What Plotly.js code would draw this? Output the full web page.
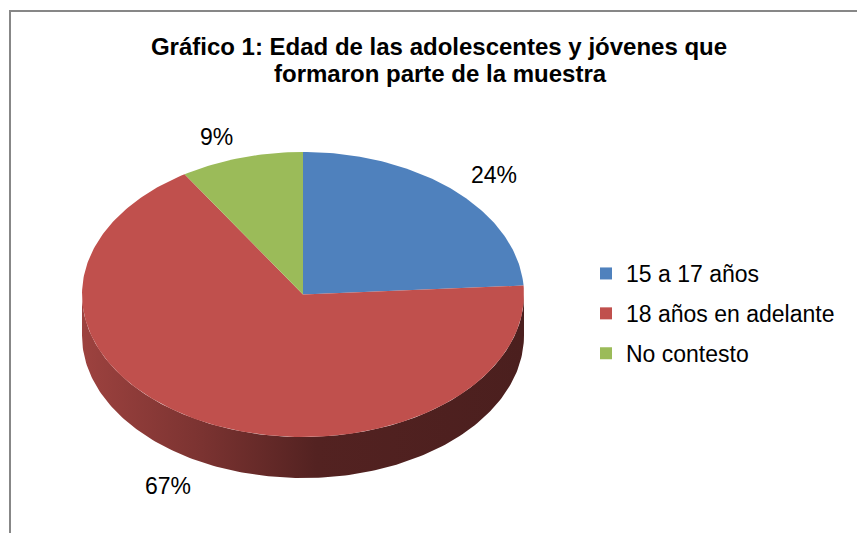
<!DOCTYPE html>
<html><head><meta charset="utf-8">
<script src="https://cdn.plot.ly/plotly-3.0.1.min.js"></script>
<style>html,body{margin:0;padding:0;background:#fff}</style>
</head><body><div id="chart" style="width:857px;height:533px"></div>
<script>
// ---- data ----
const categories = ['15 a 17 años', '18 años en adelante', 'No contesto'];
const values = [24, 67, 9];
const titleLines = ['Gráfico 1: Edad de las adolescentes y jóvenes que', 'formaron parte de la muestra'];

// ---- style ----
const colors = ['#4F81BD', '#C0504D', '#9BBB59'];
const FONT = 'Liberation Sans, Arial, sans-serif';
const geo = {cx: 303, cy: 294.5, rx: 221, ry: 142.5, depth: 41, start: 90};

function hexToRgb(h){h=h.replace('#','');return [0,2,4].map(i=>parseInt(h.substr(i,2),16));}
function shade(h,f){return 'rgb('+hexToRgb(h).map(v=>Math.round(v*f)).join(',')+')';}
function pt(th){const r=th*Math.PI/180;return [geo.cx+geo.rx*Math.cos(r), geo.cy-geo.ry*Math.sin(r)];}
function arc(a,b){
  const n=Math.max(2,Math.ceil(Math.abs(b-a)));const xs=[],ys=[];
  for(let i=0;i<=n;i++){const p=pt(a+(b-a)*i/n);xs.push(p[0]);ys.push(p[1]);}
  return [xs,ys];
}

const total = values.reduce((a,b)=>a+b,0);
const slices = [];
let cum = 0;
values.forEach((v,i)=>{
  const s = geo.start - 360*cum/total;
  cum += v;
  const e = geo.start - 360*cum/total;
  slices.push({s,e,i,v});
});

const traces = [];
// side walls (front half only)
slices.forEach(sl=>{
  const a = Math.min(sl.s, 0), b = Math.max(sl.e, -180);
  if (a <= b) return;
  const [xs,ys] = arc(a,b);
  const bx = xs.slice().reverse(), by = ys.slice().reverse().map(y=>y+geo.depth);
  const c = colors[sl.i];
  traces.push({type:'scatter', mode:'lines', x:xs.concat(bx,[xs[0]]), y:ys.concat(by,[ys[0]]),
    fill:'toself', line:{width:0,color:'rgba(0,0,0,0)'}, hoverinfo:'skip', showlegend:false,
    fillgradient:{type:'horizontal', colorscale:[[0,shade(c,0.82)],[0.27,shade(c,0.64)],[0.53,shade(c,0.43)],[1,shade(c,0.39)]]}});
});
// top faces
slices.forEach(sl=>{
  const [xs,ys] = arc(sl.s, sl.e);
  traces.push({type:'scatter', mode:'lines', x:[geo.cx].concat(xs,[geo.cx]), y:[geo.cy].concat(ys,[geo.cy]),
    fill:'toself', fillcolor:colors[sl.i], line:{width:0,color:colors[sl.i]}, hoverinfo:'skip', showlegend:false});
});
// legend entries
categories.forEach((c,i)=>{
  traces.push({type:'scatter', mode:'markers', x:[null], y:[null], name:c, legendgroup:'g'+i,
    marker:{symbol:'square', size:12, color:colors[i]}, showlegend:true});
});

// labels
const annotations = slices.map(sl=>{
  const mid = (sl.s+sl.e)/2, r = mid*Math.PI/180;
  const c = Math.cos(r), s = Math.sin(r);
  return {xref:'x', yref:'y', x: geo.cx + geo.rx*1.10*c, y: geo.cy - geo.ry*1.15*s + (s<0?geo.depth*1.1:0),
    xanchor: c>=0?'left':'right', yanchor:'middle', showarrow:false,
    text: Math.round(100*sl.v/total)+'%', font:{family:FONT, size:23, color:'#000'}};
});
annotations.push({xref:'paper', yref:'y', x:440/857, y:73, xanchor:'center', yanchor:'middle', showarrow:false,
  text:'<b>'+titleLines[1]+'</b>', font:{family:FONT, size:24, color:'#000'}});

const layout = {
  width:857, height:533, margin:{l:0,r:0,t:0,b:0}, paper_bgcolor:'#fff', plot_bgcolor:'rgba(0,0,0,0)',
  title:{text:'<b>'+titleLines[0]+'</b>', font:{family:FONT, size:24, color:'#000'}, x:439/857, xanchor:'center', xref:'container',
    y:1-46.5/533, yref:'container', yanchor:'middle'},
  xaxis:{range:[0,857], visible:false, fixedrange:true},
  yaxis:{range:[533,0], visible:false, fixedrange:true},
  showlegend:true,
  legend:{x:586/857, xanchor:'left', y:1-252/533, yanchor:'top', traceorder:'grouped', tracegroupgap:7,
    font:{family:FONT, size:23, color:'#000'}, bgcolor:'rgba(0,0,0,0)', borderwidth:0},
  annotations: annotations,
  shapes:[{type:'rect', xref:'x', yref:'y', x0:10, y0:11, x1:880, y1:560, line:{color:'#878787', width:2}, fillcolor:'rgba(0,0,0,0)', layer:'above'}]
};
Plotly.newPlot('chart', traces, layout, {displayModeBar:false, staticPlot:true});
</script></body></html>
